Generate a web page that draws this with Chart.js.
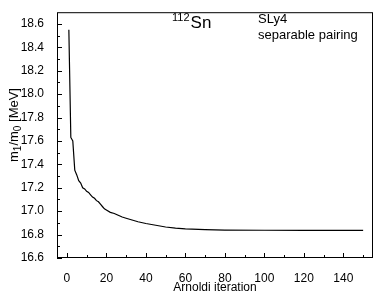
<!DOCTYPE html>
<html>
<head>
<meta charset="utf-8">
<script src="https://cdn.jsdelivr.net/npm/chart.js@4/dist/chart.umd.min.js"></script>
<style>
  html, body { margin: 0; padding: 0; background: #fff; }
  #wrap { width: 374px; height: 297px; }
</style>
</head>
<body>
<div id="wrap"><canvas id="c" width="374" height="297"></canvas></div>
<script>
// Arnoldi iteration number vs m1/m0 [MeV]
var iterations = [1, 2, 3, 4, 5, 6, 7, 8, 9, 10, 11, 12, 13, 14, 15, 16, 17, 18, 19, 20,
  22, 24, 26, 28, 30, 33, 36, 40, 45, 50, 55, 60, 70, 80, 100, 120, 150];
var m1m0 = [18.55, 17.63, 17.60, 17.35, 17.31, 17.26, 17.24, 17.20, 17.19, 17.17, 17.16, 17.14,
  17.12, 17.11, 17.09, 17.08, 17.06, 17.04, 17.02, 17.01,
  16.99, 16.98, 16.965, 16.95, 16.94, 16.925, 16.91, 16.895, 16.88, 16.865, 16.855, 16.848,
  16.842, 16.838, 16.837, 16.836, 16.836];
var xTicks = [0, 20, 40, 60, 80, 100, 120, 140];
var xMinor = [10, 30, 50, 70, 90, 110, 130, 150];
var yTicks = [16.6, 16.8, 17.0, 17.2, 17.4, 17.6, 17.8, 18.0, 18.2, 18.4, 18.6];
var yMinor = [16.7, 16.9, 17.1, 17.3, 17.5, 17.7, 17.9, 18.1, 18.3, 18.5];

var points = [];
for (var i = 0; i < iterations.length; i++) {
  points.push({ x: iterations[i], y: m1m0[i] });
}

var fontFamily = '"Liberation Sans", Arial, sans-serif';

var framePlugin = {
  id: 'frame',
  afterDraw: function (chart) {
    var ctx = chart.ctx;
    var a = chart.chartArea;
    var xs = chart.scales.x;
    var ys = chart.scales.y;
    ctx.save();
    ctx.strokeStyle = '#000';
    ctx.lineWidth = 1;
    ctx.strokeRect(a.left + 0.5, a.top + 0.5, a.right - a.left - 1, a.bottom - a.top - 1);

    ctx.beginPath();
    xTicks.forEach(function (v) {
      var px = Math.round(xs.getPixelForValue(v)) + 0.5;
      ctx.moveTo(px, a.bottom); ctx.lineTo(px, a.bottom - 5);
    });
    xMinor.forEach(function (v) {
      var px = Math.round(xs.getPixelForValue(v)) + 0.5;
      ctx.moveTo(px, a.bottom); ctx.lineTo(px, a.bottom - 3);
    });
    yTicks.forEach(function (v) {
      var py = Math.round(ys.getPixelForValue(v)) + 0.5;
      ctx.moveTo(a.left, py); ctx.lineTo(a.left + 5, py);
    });
    yMinor.forEach(function (v) {
      var py = Math.round(ys.getPixelForValue(v)) + 0.5;
      ctx.moveTo(a.left, py); ctx.lineTo(a.left + 3, py);
    });
    ctx.stroke();

    // annotation texts
    ctx.fillStyle = '#000';
    ctx.textBaseline = 'alphabetic';
    ctx.textAlign = 'left';
    ctx.font = '11px ' + fontFamily;
    ctx.fillText('112', 172, 21);
    var w = ctx.measureText('112').width;
    ctx.font = '17px ' + fontFamily;
    ctx.fillText('Sn', 172 + w + 1, 28);

    ctx.font = '13px ' + fontFamily;
    ctx.fillText('SLy4', 258, 23);
    ctx.fillText('separable pairing', 258, 39);

    // y axis title with subscripts
    ctx.translate(18, 125);
    ctx.rotate(-Math.PI / 2);
    var parts = [['m', 0], ['1', 1], ['/m', 0], ['0', 1], [' [MeV]', 0]];
    var total = 0;
    parts.forEach(function (p) {
      ctx.font = (p[1] ? '10px ' : '13px ') + fontFamily;
      total += ctx.measureText(p[0]).width;
    });
    var x = -total / 2;
    parts.forEach(function (p) {
      ctx.font = (p[1] ? '10px ' : '13px ') + fontFamily;
      ctx.fillText(p[0], x, p[1] ? 3 : 0);
      x += ctx.measureText(p[0]).width;
    });
    ctx.restore();
  }
};

new Chart(document.getElementById('c'), {
  type: 'line',
  data: {
    datasets: [{
      data: points,
      borderColor: '#000',
      borderWidth: 1.2,
      pointRadius: 0,
      tension: 0,
      fill: false
    }]
  },
  options: {
    responsive: false,
    animation: false,
    events: [],
    layout: { padding: { top: 2, right: 1, left: 0, bottom: 0 } },
    plugins: { legend: { display: false }, tooltip: { enabled: false } },
    scales: {
      x: {
        type: 'linear',
        min: -5,
        max: 155,
        grid: { display: false },
        border: { display: false },
        afterBuildTicks: function (scale) {
          scale.ticks = xTicks.map(function (v) { return { value: v }; });
        },
        afterFit: function (scale) { scale.height = 39; },
        ticks: {
          padding: 5,
          maxRotation: 0,
          autoSkip: false,
          color: '#000',
          font: { family: fontFamily, size: 12 }
        },
        title: {
          display: true,
          text: 'Arnoldi iteration',
          color: '#000',
          padding: { top: 0, bottom: 2 },
          font: { family: fontFamily, size: 12 }
        }
      },
      y: {
        type: 'linear',
        min: 16.6,
        max: 18.7,
        grid: { display: false },
        border: { display: false },
        afterBuildTicks: function (scale) {
          scale.ticks = yTicks.map(function (v) { return { value: v }; });
        },
        afterFit: function (scale) { scale.width = 57; },
        ticks: {
          padding: 5,
          autoSkip: false,
          color: '#000',
          font: { family: fontFamily, size: 12 },
          callback: function (v) { return v.toFixed(1); }
        }
      }
    }
  },
  plugins: [framePlugin]
});
</script>
</body>
</html>
